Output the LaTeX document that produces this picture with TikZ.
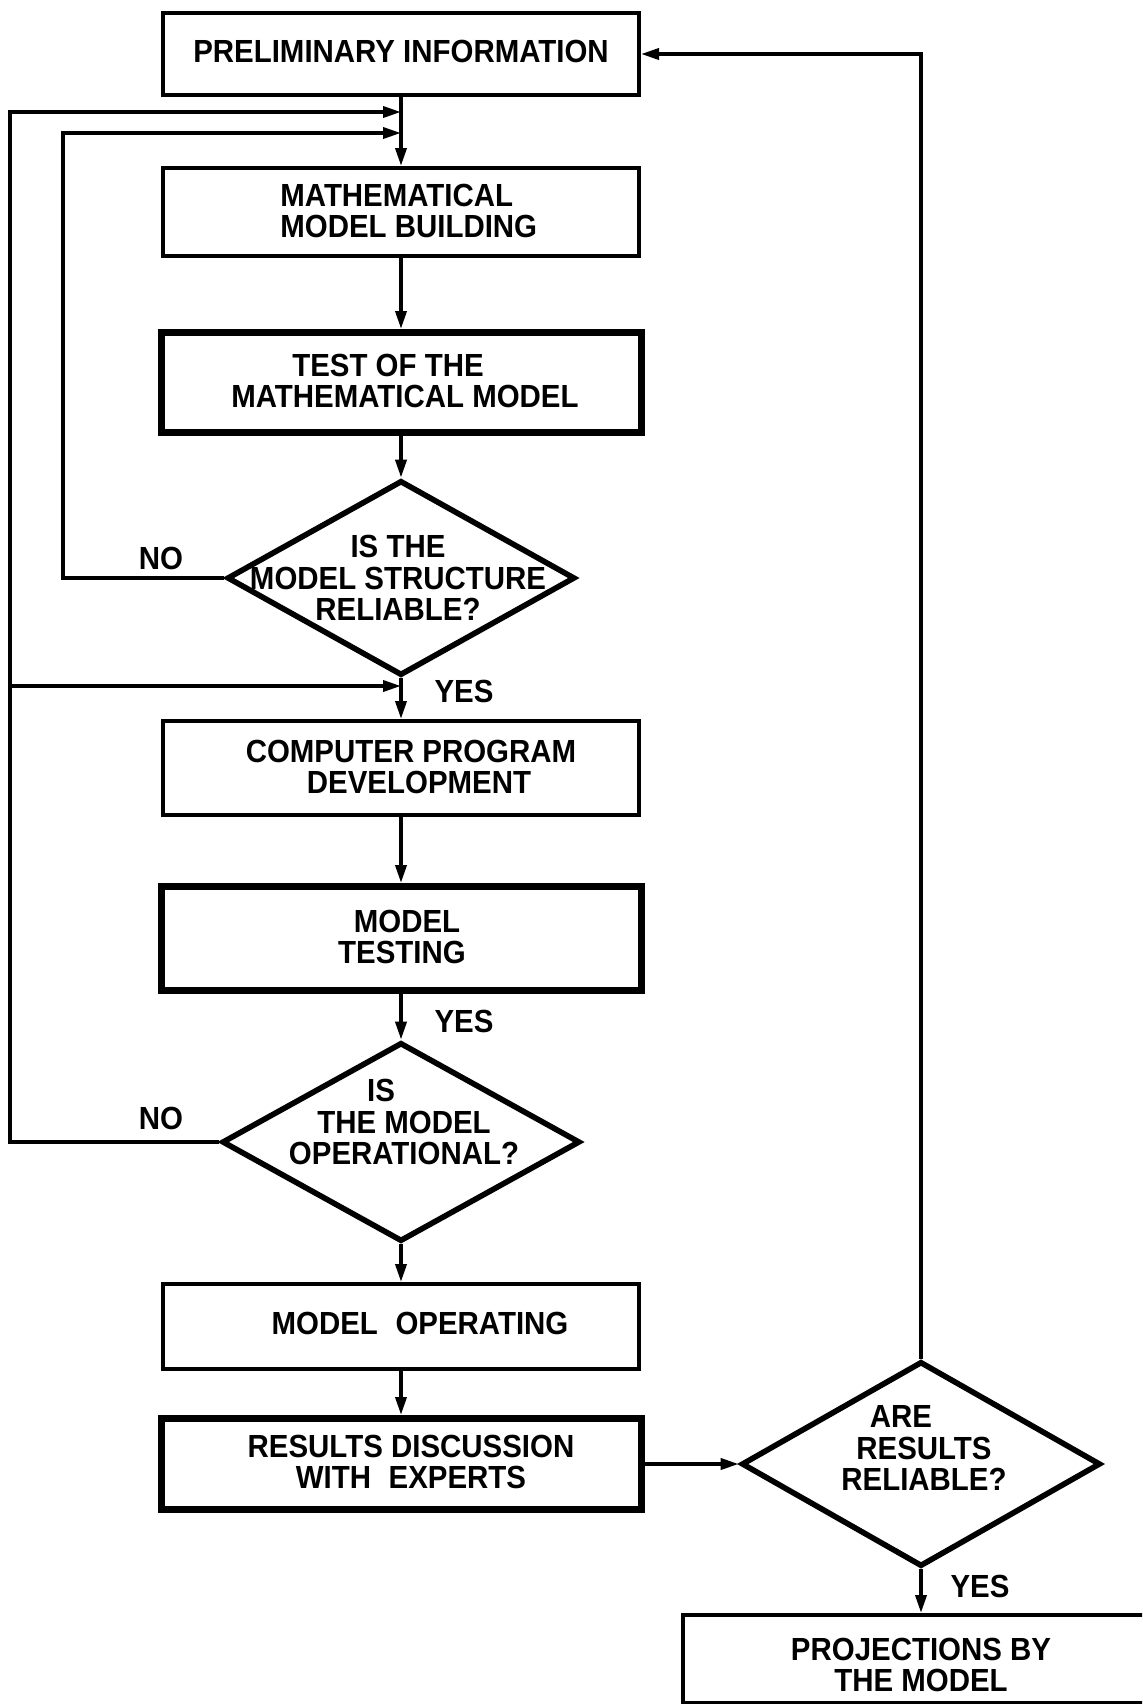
\documentclass[tikz,border=0pt]{standalone}
\usepackage{fontspec}
\setmainfont{Liberation Sans}[FakeStretch=0.92]
\usetikzlibrary{shapes.geometric,arrows.meta}
\begin{document}
\begin{tikzpicture}[x=0.5pt,y=-0.5pt,
  every node/.style={font=\bfseries\fontsize{16}{15.8}\selectfont},
  box/.style={draw,line width=2pt,minimum width=238pt,inner sep=0pt},
  thickbox/.style={draw,line width=3.5pt,minimum width=240pt,inner sep=0pt},
  dia/.style={draw,diamond,line width=2.8pt,inner sep=0pt},
  txt/.style={inner sep=0pt,align=center},
  arr/.style={line width=1.8pt,-{Triangle[length=9pt,width=5.5pt]}}]
\useasboundingbox (0,0) rectangle (1142,1704);
\clip (0,0) rectangle (1142,1704);

% boxes
\node[box,minimum height=41pt] (pre) at (401,54) {};
\node[box,minimum height=44pt] (math) at (401,212) {};
\node[thickbox,minimum height=50pt] (test) at (401,382.5) {};
\node[dia,minimum width=174pt,minimum height=97.5pt] (d1) at (401,578) {};
\node[box,minimum height=47pt] (comp) at (401,768) {};
\node[thickbox,minimum height=52pt] (testing) at (401,938.5) {};
\node[dia,minimum width=179pt,minimum height=99.5pt] (d2) at (401,1142) {};
\node[box,minimum height=42.5pt] (op) at (401,1326.5) {};
\node[thickbox,minimum height=45.5pt] (res) at (401,1464) {};
\node[dia,minimum width=179.5pt,minimum height=102.5pt] (d3) at (921,1464) {};
\node[box,minimum width=240pt,minimum height=44pt] (proj) at (923,1659) {};

% texts
\node[txt] (preT) at (401,51) {PRELIMINARY INFORMATION};
\node[txt,align=left,anchor=west] (mathT) at (280,211) {MATHEMATICAL\\MODEL BUILDING};
\node[txt] (testT) at (405,381) {TEST OF THE\hspace*{17pt}\\MATHEMATICAL MODEL};
\node[txt] (d1T) at (398,578) {IS THE\\MODEL STRUCTURE\\RELIABLE?};
\node[txt] (compT) at (411,767) {COMPUTER PROGRAM\\\hspace*{8pt}DEVELOPMENT};
\node[txt] (testingT) at (402,937) {\hspace*{5pt}MODEL\\TESTING};
\node[txt] (d2T) at (404,1122) {IS\hspace*{23pt}\\THE MODEL\\OPERATIONAL?};
\node[txt] (opT) at (420,1323) {MODEL\hspace{0.55em}OPERATING};
\node[txt] (resT) at (411,1462) {RESULTS DISCUSSION\\WITH\hspace{0.55em}EXPERTS};
\node[txt] (d3T) at (924,1448) {ARE\hspace*{23pt}\\RESULTS\\RELIABLE?};
\node[txt] (projT) at (921,1665) {PROJECTIONS BY\\THE MODEL};

% labels
\node[txt] (no1) at (161,558) {NO};
\node[txt] (yes1) at (464,691) {YES};
\node[txt] (yes2) at (464,1021) {YES};
\node[txt] (no2) at (161,1118) {NO};
\node[txt] (yes3) at (980,1586) {YES};

% junctions
\coordinate (j1) at (401,112);
\coordinate (j2) at (401,133);
\coordinate (j3) at (401,686);
\coordinate (oX) at (10,0);
\coordinate (iX) at (63,0);

% main flow
\draw[arr] (pre) -- (math);
\draw[arr] (math) -- (test);
\draw[arr] (test) -- (d1);
\draw[arr] (d1) -- (comp);
\draw[arr] (comp) -- (testing);
\draw[arr] (testing) -- (d2);
\draw[arr] (d2) -- (op);
\draw[arr] (op) -- (res);
\draw[arr] (res) -- (d3);
\draw[arr] (d3.south) -- (d3.south |- proj.north);
\draw[arr] (d3.north) |- (pre.east);

% loops
\draw[arr] (d2.west) -- (d2.west -| oX) -- (oX |- j1) -- (j1);
\draw[arr] (oX |- j3) -- (j3);
\draw[arr] (d1.west) -- (d1.west -| iX) -- (iX |- j2) -- (j2);
\end{tikzpicture}
\end{document}
